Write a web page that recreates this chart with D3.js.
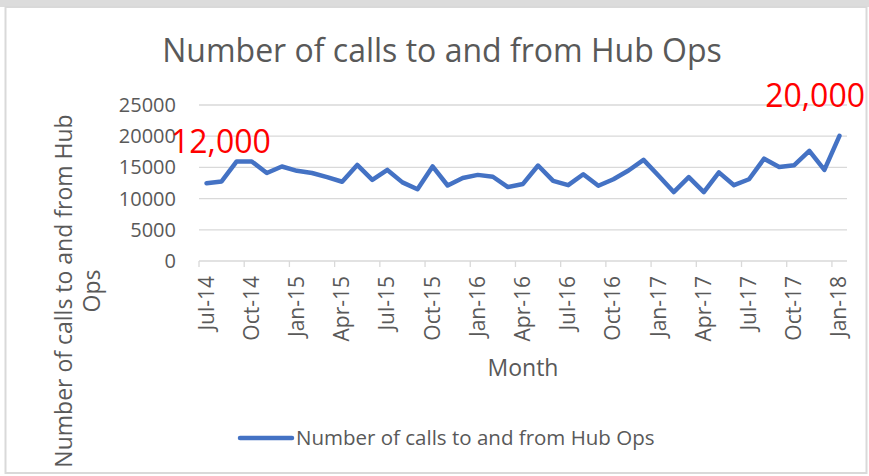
<!DOCTYPE html>
<html>
<head>
<meta charset="utf-8">
<script src="https://cdn.jsdelivr.net/npm/d3@7"></script>
<style>
  body { margin: 0; background: #fff; }
  text { font-family: "Open Sans", sans-serif; fill: #595959; }
</style>
</head>
<body>
<div id="chart"></div>
<script>
// monthly counts, Jul-14 .. Jan-18
const months = []
for (let i = 0; i < 43; i++) months.push(new Date(2014, 6 + i, 1))
const calls = [12450, 12750, 15950, 15950, 14100, 15150, 14450, 14100, 13450, 12700,
               15400, 13000, 14600, 12600, 11500, 15150, 12100, 13300, 13800, 13500,
               11850, 12350, 15300, 12850, 12150, 13900, 12050, 13100, 14500, 16200,
               13650, 11050, 13450, 11050, 14200, 12150, 13100, 16400, 15050, 15350,
               17650, 14600, 20050]
const yTicks = [0, 5000, 10000, 15000, 20000, 25000]
const fmt = d3.timeFormat("%b-%y")

const width = 869
const height = 476
const margin = { top: 105, bottom: 215, left: 199, right: 22 }

const svg = d3.select("#chart").append("svg").attr("width", width).attr("height", height)

// frame
svg.append("rect").attr("x", 0).attr("y", 0).attr("width", width).attr("height", 7).attr("fill", "#dcdcdc")
svg.append("rect").attr("x", 5.5).attr("y", 7).attr("width", 861).attr("height", 466)
    .attr("fill", "#fff").attr("stroke", "#d9d9d9").attr("stroke-width", 2)

const x = d3.scaleBand().domain(months.map(d => +d)).range([margin.left, width - margin.right]).padding(0)
const y = d3.scaleLinear().domain([0, 25000]).range([height - margin.bottom, margin.top])

// gridlines
svg.append("g").selectAll("line").data(yTicks.slice(1)).enter().append("line")
    .attr("x1", margin.left).attr("x2", width - margin.right)
    .attr("y1", d => y(d)).attr("y2", d => y(d))
    .attr("stroke", "#d9d9d9").attr("stroke-width", 1.3)

// y axis labels
const yAxis = d3.axisLeft(y).tickValues(yTicks).tickSize(0).tickPadding(23).tickFormat(d3.format("d"))
const yG = svg.append("g").attr("transform", `translate(${margin.left}, 0)`).call(yAxis)
yG.select(".domain").remove()
yG.selectAll("text").style("font-size", "20px").attr("fill", "#595959")

// x axis
const tickMonths = months.filter((d, i) => i % 3 == 0)
svg.append("line").attr("x1", margin.left).attr("x2", width - margin.right)
    .attr("y1", y(0)).attr("y2", y(0)).attr("stroke", "#d9d9d9").attr("stroke-width", 1.3)
svg.append("g").selectAll("line").data(tickMonths).enter().append("line")
    .attr("x1", d => x(+d)).attr("x2", d => x(+d))
    .attr("y1", y(0)).attr("y2", y(0) + 6)
    .attr("stroke", "#d9d9d9").attr("stroke-width", 1.3)
svg.append("g").selectAll("text").data(tickMonths).enter().append("text")
    .attr("transform", d => `translate(${x(+d) + x.bandwidth() / 2 + 7}, ${y(0) + 15}) rotate(-90)`)
    .attr("text-anchor", "end")
    .style("font-size", "21px")
    .text(d => fmt(d))

// line
const line = d3.line()
    .x((d, i) => x(+months[i]) + x.bandwidth() / 2)
    .y(d => y(d))
svg.append("path").datum(calls).attr("d", line)
    .attr("fill", "none").attr("stroke", "#4472c4").attr("stroke-width", 4.5)
    .attr("stroke-linejoin", "round").attr("stroke-linecap", "round")

// titles
svg.append("text").attr("x", 442).attr("y", 62).attr("text-anchor", "middle")
    .style("font-size", "32px").text("Number of calls to and from Hub Ops")
svg.append("text").attr("x", 523).attr("y", 376).attr("text-anchor", "middle")
    .style("font-size", "23px").text("Month")
const yTitle = svg.append("text").attr("transform", "translate(72, 291) rotate(-90)")
    .attr("text-anchor", "middle").style("font-size", "23px")
yTitle.append("tspan").attr("x", 0).attr("dy", 0).text("Number of calls to and from Hub")
yTitle.append("tspan").attr("x", 0).attr("dy", 28).text("Ops")

// annotations
svg.append("text").attr("x", 171).attr("y", 153).style("font-size", "32px")
    .style("fill", "#ff0000").text("12,000")
svg.append("text").attr("x", 865).attr("y", 107).attr("text-anchor", "end").style("font-size", "32px")
    .style("fill", "#ff0000").text("20,000")

// legend
svg.append("line").attr("x1", 240).attr("x2", 292).attr("y1", 438).attr("y2", 438)
    .attr("stroke", "#4472c4").attr("stroke-width", 4.5).attr("stroke-linecap", "round")
svg.append("text").attr("x", 296).attr("y", 445).style("font-size", "20.5px")
    .text("Number of calls to and from Hub Ops")
</script>
</body>
</html>
